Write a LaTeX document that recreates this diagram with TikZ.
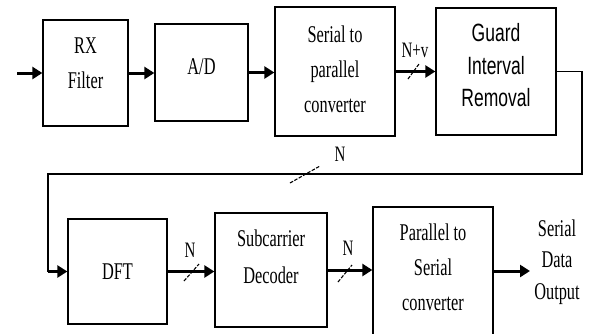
\documentclass[tikz,border=0pt]{standalone}
\usepackage{fontspec}
\newfontfamily\narrowserif[FakeStretch=0.68]{Liberation Serif}
\newfontfamily\narrowsans[FakeStretch=0.7]{Liberation Sans}
\usetikzlibrary{arrows.meta}

\begin{document}
\begin{tikzpicture}[x=1pt, y=-1pt,
	blk/.style = {draw, line width=1.3pt, inner sep=0pt},
	txt/.style = {font=\narrowserif\fontsize{24}{35}\selectfont, align=center, inner sep=0pt},
	sans/.style = {font=\narrowsans\fontsize{25}{32.5}\selectfont, align=center, inner sep=0pt},
	lbl/.style = {font=\narrowserif\fontsize{22}{24}\selectfont, inner sep=0pt},
	flow/.style = {line width=3pt, -{Triangle[length=10pt, width=12pt]}},
	wire/.style = {line width=1.3pt},
	bus/.style = {line width=1.1pt, dash pattern=on 3.5pt off 1.5pt}]

	\useasboundingbox (0,0) rectangle (590,333);

	% top row
	\node[blk, minimum width=85pt, minimum height=106pt] (rx) at (85.5,73) {};
	\node[blk, minimum width=93pt, minimum height=97pt] (ad) at (201.5,72.5) {};
	\node[blk, minimum width=120pt, minimum height=129pt] (sp) at (335,71.5) {};
	\node[blk, minimum width=120pt, minimum height=127pt] (gi) at (496,71.5) {};

	\node[txt] (rxt) at ([yshift=9.5pt]rx.center) {RX\\Filter};
	\node[txt] (adt) at ([yshift=5.5pt]ad.center) {A/D};
	\node[txt] (spt) at ([yshift=2.5pt]sp.center) {Serial to\\parallel\\converter};
	\node[sans] (git) at ([yshift=6pt]gi.center) {Guard\\Interval\\Removal};

	% bottom row
	\node[blk, minimum width=99pt, minimum height=105pt] (dft) at (117.5,271.5) {};
	\node[blk, minimum width=112pt, minimum height=114pt] (sd) at (271,270) {};
	\node[blk, minimum width=120pt, minimum height=128pt] (ps) at (433,271) {};

	\node[txt] (dftt) at (dft.center) {DFT};
	\node[txt, font=\narrowserif\fontsize{24}{37}\selectfont] (sdt) at ([yshift=13.5pt]sd.center) {Subcarrier\\Decoder};
	\node[txt] (pst) at ([yshift=3.5pt]ps.center) {Parallel to\\Serial\\converter};
	\node[txt, font=\narrowserif\fontsize{24}{31.5}\selectfont] (outt) at (557,262) {Serial\\Data\\Output};

	% connectors
	\coordinate (in) at (17,73);
	\coordinate (c1) at (582,174);
	\coordinate (c2) at (48,174);
	\coordinate (out) at (530,271);

	\draw[flow] (in) -- (rx.west);
	\draw[flow] (rx.east) -- (rx.east -| ad.west);
	\draw[flow] (ad.east) -- (ad.east -| sp.west);
	\draw[flow] (sp.east) -- (sp.east -| gi.west);
	\draw[wire] (gi.east) -| (c1) -- (c2) -- (c2 |- dft.west);
	\draw[flow] (c2 |- dft.west) -- (dft.west);
	\draw[flow] (dft.east) -- (dft.east -| sd.west);
	\draw[flow] (sd.east) -- (sd.east -| ps.west);
	\draw[flow] (ps.east) -- (out);

	% bus widths
	\draw[bus] (408,79) -- (419,64);
	\draw[bus] (290,183) -- (320,166);
	\draw[bus] (184,281) -- (199,264);
	\draw[bus] (338,282) -- (352,265);

	\node[lbl] (nv) at (415,50) {N+v};
	\node[lbl] (n1) at (340,154) {N};
	\node[lbl] (n2) at (190,250) {N};
	\node[lbl] (n3) at (348,248) {N};
	\end{tikzpicture}
\end{document}
